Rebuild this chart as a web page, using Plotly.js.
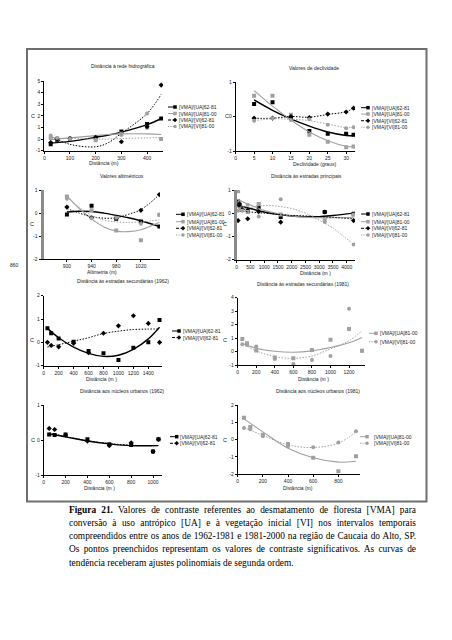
<!DOCTYPE html>
<html><head><meta charset="utf-8">
<script src="https://cdn.plot.ly/plotly-3.0.1.min.js"></script>
<style>
body{margin:0;background:#fff;}
#chart{position:absolute;left:0;top:0;width:452px;height:640px;}
#cap{position:absolute;left:69px;top:503.5px;width:347px;font-family:'Liberation Serif','Times New Roman',serif;font-size:9.4px;line-height:13.3px;color:#000;word-spacing:-0.6px;}
#cap div{text-align:justify;text-align-last:justify;}
#cap div.last{text-align-last:left;word-spacing:0;}
</style></head>
<body>
<div id="chart"></div>
<div id="cap">
<div><b>Figura 21.</b> Valores de contraste referentes ao desmatamento de floresta [VMA] para</div>
<div>conversão à uso antrópico [UA] e à vegetação inicial [VI] nos intervalos temporais</div>
<div>compreendidos entre os anos de 1962-1981 e 1981-2000 na região de Caucaia do Alto, SP.</div>
<div>Os pontos preenchidos representam os valores de contraste significativos. As curvas de</div>
<div class="last">tendência receberam ajustes polinomiais de segunda ordem.</div>
</div>
<script>
// ---------------- DATA ----------------
// Panel 1: Distância à rede hidrográfica
const hidroX = [25, 50, 100, 200, 300, 400, 455];
const hidroUA62 = [-0.45, -0.05, 0.0, 0.15, 0.65, 1.3, 1.78];
const hidroUA81 = [0.1, 0.05, 0.05, -0.1, 0.45, 1.0, 0.0];
const hidroVI62 = [-0.3, 0.0, 0.05, 0.15, -0.23, 1.06, 4.65];
const hidroVI81 = [0.3, 0.1, 0.0, -0.05, 0.35, 2.2, 0.0];
const hidroFitX = [25, 100, 200, 250, 300, 400, 455];
const hidroFitUA62 = [-0.35, -0.2, 0.15, 0.35, 0.6, 1.25, 1.75];
const hidroFitUA81 = [-0.05, 0.1, 0.3, 0.4, 0.45, 0.45, 0.4];
const hidroFitVI62 = [0.25, -0.45, -0.66, -0.3, 0.5, 2.2, 3.85];
const hidroFitVI81 = [0.1, 0.05, 0.0, 0.0, 0.05, 0.1, 0.15];

// Panel 2: Valores de declividade
const declX = [5, 10, 15, 20, 25, 30, 32];
const declUA62 = [0.36, 0.41, -0.05, -0.42, -0.5, -0.5, -0.53];
const declUA81 = [0.6, 0.6, 0.05, -0.53, -0.73, -0.89, -0.87];
const declVI62 = [-0.05, -0.05, 0.0, -0.03, 0.07, 0.13, 0.24];
const declVI81 = [-0.12, -0.05, -0.1, -0.08, -0.24, -0.34, -0.31];
const declFitX = [5, 10, 15, 20, 25, 30, 32];
const declFitUA62 = [0.48, 0.18, -0.07, -0.28, -0.45, -0.55, -0.56];
const declFitUA81 = [0.75, 0.3, -0.1, -0.45, -0.7, -0.86, -0.88];
const declFitVI62 = [-0.05, -0.05, 0.0, -0.02, 0.06, 0.14, 0.24];
const declFitVI81 = [-0.12, -0.07, -0.08, -0.12, -0.22, -0.32, -0.31];

// Panel 3: Valores altimétricos
const altX = [900, 940, 980, 1020, 1050];
const altUA62 = [-0.06, 0.32, -0.25, -0.36, -0.58];
const altUA81 = [0.72, 0.12, -0.75, -1.18, -0.07];
const altVI62 = [0.26, -0.2, -0.22, 0.12, 0.8];
const altVI81 = [0.62, -0.22, -0.2, -0.46, -0.07];
const altFitX = [900, 920, 940, 960, 980, 1000, 1020, 1050];
const altFitUA62 = [0.05, 0.08, 0.07, 0.0, -0.1, -0.2, -0.33, -0.58];
const altFitUA81 = [0.75, 0.2, -0.25, -0.6, -0.78, -0.8, -0.72, -0.4];
const altFitVI62 = [0.2, 0.0, -0.15, -0.22, -0.2, -0.05, 0.15, 0.8];
const altFitVI81 = [0.7, 0.25, -0.1, -0.3, -0.38, -0.4, -0.38, -0.3];

// Panel 4: Distância às estradas principais
const princX = [50, 100, 200, 400, 800, 1600, 3200, 4250];
const princUA62 = [0.5, 0.33, 0.16, 0.16, 0.26, -0.17, 0.05, -0.02];
const princUA81 = [0.95, 0.45, 0.2, 0.05, 0.4, -0.06, -0.31, -0.07];
const princVI62 = [-0.32, 0.4, 0.16, -0.24, 0.07, -0.39, 0.05, -0.32];
const princVI81 = [0.1, 0.15, 0.1, 0.36, -0.14, 0.6, -0.38, -1.35];
const princFitX = [0, 500, 1000, 1500, 2000, 2500, 3000, 3500, 4250];
const princFitUA62 = [0.35, 0.2, 0.05, -0.05, -0.12, -0.15, -0.15, -0.1, 0.0];
const princFitUA81 = [0.6, 0.35, 0.12, -0.02, -0.12, -0.17, -0.2, -0.2, -0.18];
const princFitVI62 = [0.1, 0.05, 0.0, -0.05, -0.1, -0.12, -0.15, -0.18, -0.25];
const princFitVI81 = [0.1, 0.25, 0.33, 0.3, 0.2, 0.0, -0.3, -0.65, -1.35];

// Panel 5: Distância às estradas secundárias (1962)
const sec62X = [50, 100, 200, 400, 600, 800, 1000, 1200, 1400, 1550];
const sec62UA62 = [0.6, 0.39, 0.17, 0.03, -0.37, -0.47, -0.76, -0.23, 0.0, 0.96];
const sec62VI62 = [0.0, -0.13, -0.19, -0.04, -0.44, 0.39, 0.71, 1.14, 0.81, 0.0];
const sec62FitX = [50, 200, 400, 600, 800, 1000, 1200, 1400, 1550];
const sec62FitUA62 = [0.6, 0.2, -0.2, -0.47, -0.6, -0.55, -0.3, 0.15, 0.65];
const sec62FitVI62 = [-0.2, -0.1, 0.05, 0.2, 0.38, 0.48, 0.55, 0.57, 0.57];

// Panel 6: Distância às estradas secundárias (1981)
const sec81X = [50, 100, 200, 400, 600, 800, 1000, 1200, 1340];
const sec81UA81 = [0.93, 0.62, 0.08, -0.45, -0.5, 0.12, 0.88, 1.68, 0.05];
const sec81VI81 = [0.55, 0.48, 0.38, -0.55, -0.93, -0.63, -0.33, 3.18, 0.05];
const sec81FitX = [50, 200, 400, 600, 800, 1000, 1200, 1340];
const sec81FitUA81 = [0.6, 0.25, 0.02, -0.05, 0.05, 0.3, 0.65, 1.05];
const sec81FitVI81 = [0.6, 0.05, -0.38, -0.5, -0.33, 0.2, 0.8, 1.55];

// Panel 7: Distância aos núcleos urbanos (1962)
const urb62X = [50, 100, 200, 400, 600, 800, 1000, 1050];
const urb62UA62 = [0.16, 0.14, 0.16, 0.02, -0.12, -0.14, -0.33, 0.02];
const urb62VI62 = [0.33, 0.3, 0.14, -0.03, -0.16, -0.08, -0.33, 0.02];
const urb62FitX = [50, 200, 400, 600, 800, 1050];
const urb62FitUA62 = [0.17, 0.09, -0.03, -0.11, -0.16, -0.16];
const urb62FitVI62 = [0.2, 0.1, -0.02, -0.1, -0.15, -0.16];

// Panel 8: Distância aos núcleos urbanos (1981)
const urb81X = [50, 100, 200, 400, 600, 800, 940];
const urb81UA81 = [1.27, 0.73, 0.29, -0.25, -1.04, -1.83, -0.96];
const urb81VI81 = [0.67, 0.6, 0.19, -0.38, -0.44, -0.17, 0.48];
const urb81FitX = [50, 200, 400, 600, 800, 940];
const urb81FitUA81 = [1.2, 0.45, -0.5, -1.05, -1.3, -1.25];
const urb81FitVI81 = [0.7, 0.25, -0.3, -0.45, -0.2, 0.45];

// Series names
const nUA62 = '[VMA]/[UA]62-81', nUA81 = '[VMA]/[UA]81-00', nVI62 = '[VMA]/[VI]62-81', nVI81 = '[VMA]/[VI]81-00';

// Titles / tick values
const titles = ['Distância à rede hidrográfica', 'Valores de declividade', 'Valores altimétricos',
  'Distância às estradas principais', 'Distância às estradas secundárias (1962)',
  'Distância às estradas secundárias (1981)', 'Distância aos núcleos urbanos (1962)',
  'Distância aos núcleos urbanos (1981)'];
const xLabels = ['Distância (m)', 'Declividade (graus)', 'Altimetria (m)', 'Distância (m )',
  'Distância (m )', 'Distância (m )', 'Distância (m )', 'Distância (m)'];
const xTicks = [[0,100,200,300,400],[0,5,10,15,20,25,30],[900,940,980,1020],
  [0,500,1000,1500,2000,2500,3000,3500,4000],[0,200,400,600,800,1000,1200,1400],
  [0,200,400,600,800,1000,1200],[0,200,400,600,800,1000],[0,200,400,600,800]];
const yTicks = [[-1,0,1,2,3,4,5],[-1,0,1],[-2,-1,0,1],[-2,-1,0,1],[-1,0,1,2],[-1,0,1,2,3,4],[-1,0,1],[-2,-1,0,1,2]];

// ---------------- LAYOUT GEOMETRY (pixels) ----------------
const W = 452, H = 640;
const fx = p => p / W, fy = p => 1 - p / H;
const geo = [
  {d:[44.3,163,81,150.7], xr:[0,462], yr:[-1,5], t:[123,66], xl:[104,163.3], c:[33.3,116],
   lg:{x0:168,x1:175,tx:176.7,rows:[107,113.5,120,126.5]}},
  {d:[235.7,355,82,151], xr:[0,32.4], yr:[-1,1], t:[314,68], xl:[314,164.3], c:[227,116],
   lg:{x0:361,x1:368,tx:369.5,rows:[107.7,114,120.7,127.3]}},
  {d:[43.5,160,190,259.3], xr:[862,1051], yr:[-2,1], t:[121.7,175.7], xl:[101.7,271.7], c:[31.7,224],
   lg:{x0:176,x1:183,tx:185,rows:[214.3,221.7,228.3,235]}},
  {d:[236.7,355,190,259.5], xr:[0,4300], yr:[-2,1], t:[306.7,176], xl:[315,272.7], c:[225,224],
   lg:{x0:361,x1:368,tx:369.5,rows:[214,221.7,228.3,235]}},
  {d:[43.7,162,295.7,365.7], xr:[0,1583], yr:[-1,2], t:[123,281], xl:[101.7,379], c:[31.7,340],
   lg:{x0:172,x1:179,tx:180.5,rows:[331,337.5]}},
  {d:[237.7,365,297.7,365], xr:[0,1372], yr:[-1,4], t:[303,284], xl:[313.3,379.3], c:[225,340],
   lg:{x0:369,x1:376,tx:378,rows:[333.3,341.7]}},
  {d:[43.7,162,405,475], xr:[0,1082], yr:[-1,1], t:[121.7,391], xl:[99,488.3], c:[33.3,440],
   lg:{x0:170,x1:176.7,tx:178.3,rows:[436.7,443.3]}},
  {d:[237.7,360,405,474.3], xr:[0,972], yr:[-2,2], t:[318,391], xl:[297.7,488.3], c:[225,440],
   lg:{x0:360,x1:367,tx:371.7,rows:[436.7,443.3]}}
];

// styles
const ST = {};
ST[nUA62] = {color:'#000000', dash:'solid', ldash:'solid', width:1.4, symbol:'square', mcolor:'#000000'};
ST[nUA81] = {color:'#a0a0a0', dash:'solid', ldash:'solid', width:1.1, symbol:'square', mcolor:'#a0a0a0'};
ST[nVI62] = {color:'#000000', dash:'1.5px,1.5px', ldash:'3px,1.5px', width:1, symbol:'diamond', mcolor:'#000000'};
ST[nVI81] = {color:'#a0a0a0', dash:'1.5px,1.5px', ldash:'1.2px,1.2px', width:1, symbol:'circle', mcolor:'#a0a0a0'};

const panelSeries = [
  [[nUA62,hidroX,hidroUA62,hidroFitX,hidroFitUA62],[nUA81,hidroX,hidroUA81,hidroFitX,hidroFitUA81],
   [nVI62,hidroX,hidroVI62,hidroFitX,hidroFitVI62],[nVI81,hidroX,hidroVI81,hidroFitX,hidroFitVI81]],
  [[nUA62,declX,declUA62,declFitX,declFitUA62],[nUA81,declX,declUA81,declFitX,declFitUA81],
   [nVI62,declX,declVI62,declFitX,declFitVI62],[nVI81,declX,declVI81,declFitX,declFitVI81]],
  [[nUA62,altX,altUA62,altFitX,altFitUA62],[nUA81,altX,altUA81,altFitX,altFitUA81],
   [nVI62,altX,altVI62,altFitX,altFitVI62],[nVI81,altX,altVI81,altFitX,altFitVI81]],
  [[nUA62,princX,princUA62,princFitX,princFitUA62],[nUA81,princX,princUA81,princFitX,princFitUA81],
   [nVI62,princX,princVI62,princFitX,princFitVI62],[nVI81,princX,princVI81,princFitX,princFitVI81]],
  [[nUA62,sec62X,sec62UA62,sec62FitX,sec62FitUA62],[nVI62,sec62X,sec62VI62,sec62FitX,sec62FitVI62]],
  [[nUA81,sec81X,sec81UA81,sec81FitX,sec81FitUA81],[nVI81,sec81X,sec81VI81,sec81FitX,sec81FitVI81]],
  [[nUA62,urb62X,urb62UA62,urb62FitX,urb62FitUA62],[nVI62,urb62X,urb62VI62,urb62FitX,urb62FitVI62]],
  [[nUA81,urb81X,urb81UA81,urb81FitX,urb81FitUA81],[nVI81,urb81X,urb81VI81,urb81FitX,urb81FitVI81]]
];

const FONT = 'Liberation Sans, Arial, sans-serif';
const traces = [];
const layout = {
  width: W, height: H, margin:{l:0,r:0,t:0,b:0}, paper_bgcolor:'#fff', plot_bgcolor:'rgba(0,0,0,0)',
  showlegend:false, annotations:[], shapes:[], font:{family:FONT, size:5, color:'#222'}
};

geo.forEach((g, i) => {
  const s = i === 0 ? '' : String(i + 1);
  const xa = 'xaxis' + s, ya = 'yaxis' + s;
  const thickY = (i === 2 || i === 3);
  layout[xa] = {domain:[fx(g.d[0]), fx(g.d[1])], range:g.xr, anchor:'y' + s,
    showgrid:false, zeroline:false, showline:true, linecolor:'#000', linewidth:1,
    ticks:'outside', ticklen:2, tickcolor:'#000', tickwidth:1,
    tickvals:xTicks[i], ticktext:xTicks[i].map(v => String(v)),
    tickfont:{family:FONT, size:5, color:'#222'}, fixedrange:true};
  layout[ya] = {domain:[fy(g.d[3]), fy(g.d[2])], range:g.yr, anchor:'x' + s,
    showgrid:false, zeroline:false, showline:true, linecolor: thickY ? '#8a8a8a' : '#000', linewidth: thickY ? 3 : 1,
    ticks:'outside', ticklen:2, tickcolor:'#000', tickwidth:1,
    tickvals:yTicks[i], ticktext:yTicks[i].map(v => String(v)),
    tickfont:{family:FONT, size:5, color:'#222'}, fixedrange:true};

  panelSeries[i].forEach(sr => {
    const [name, x, y, fxv, fyv] = sr;
    const st = ST[name];
    traces.push({x:fxv, y:fyv, xaxis:'x' + s, yaxis:'y' + s, mode:'lines', name:name,
      line:{color:st.color, dash:st.dash, width:st.width, shape:'spline', smoothing:1}, hoverinfo:'skip'});
    traces.push({x:x, y:y, xaxis:'x' + s, yaxis:'y' + s, mode:'markers', name:name,
      marker:{symbol:st.symbol, size:4, color:st.mcolor}, hoverinfo:'skip'});
  });

  // texts
  layout.annotations.push({text:titles[i], xref:'paper', yref:'paper', x:fx(g.t[0]), y:fy(g.t[1]),
    xanchor:'center', yanchor:'middle', showarrow:false, font:{family:FONT, size:5, color:'#222'}});
  layout.annotations.push({text:xLabels[i], xref:'paper', yref:'paper', x:fx(g.xl[0]), y:fy(g.xl[1]),
    xanchor:'center', yanchor:'middle', showarrow:false, font:{family:FONT, size:5, color:'#222'}});
  layout.annotations.push({text:'C', xref:'paper', yref:'paper', x:fx(g.c[0]), y:fy(g.c[1]),
    xanchor:'center', yanchor:'middle', showarrow:false, font:{family:FONT, size:5.5, color:'#222'}});

  // legend (drawn manually)
  panelSeries[i].forEach((sr, k) => {
    const st = ST[sr[0]];
    const yy = g.lg.rows[k];
    traces.push({x:[g.lg.x0, g.lg.x1], y:[yy, yy], xaxis:'x9', yaxis:'y9', mode:'lines',
      line:{color:st.color, dash:st.ldash, width:1}, hoverinfo:'skip'});
    traces.push({x:[g.lg.x1], y:[yy], xaxis:'x9', yaxis:'y9', mode:'markers',
      marker:{symbol:st.symbol, size:3.5, color:st.mcolor}, hoverinfo:'skip'});
    layout.annotations.push({text:sr[0], xref:'paper', yref:'paper', x:fx(g.lg.tx), y:fy(yy),
      xanchor:'left', yanchor:'middle', showarrow:false, font:{family:FONT, size:5, color:'#222'}});
  });
});

// "860" tick label of the altimetry axis, drawn left of the axis line as in the figure
layout.annotations.push({text:'860', xref:'paper', yref:'paper', x:fx(14.5), y:fy(264.5),
  xanchor:'center', yanchor:'middle', showarrow:false, font:{family:FONT, size:5, color:'#222'}});

// overlay pixel axes for legend symbols
layout.xaxis9 = {domain:[0,1], range:[0,W], visible:false, fixedrange:true, anchor:'y9'};
layout.yaxis9 = {domain:[0,1], range:[H,0], visible:false, fixedrange:true, anchor:'x9'};

// frame around the figure
layout.shapes.push({type:'rect', xref:'paper', yref:'paper', x0:fx(27), x1:fx(426.5), y0:fy(49), y1:fy(501.5),
  line:{color:'#6e6e6e', width:2}, fillcolor:'rgba(0,0,0,0)'});

Plotly.newPlot('chart', traces, layout, {staticPlot:true, displayModeBar:false});
</script>
</body></html>
